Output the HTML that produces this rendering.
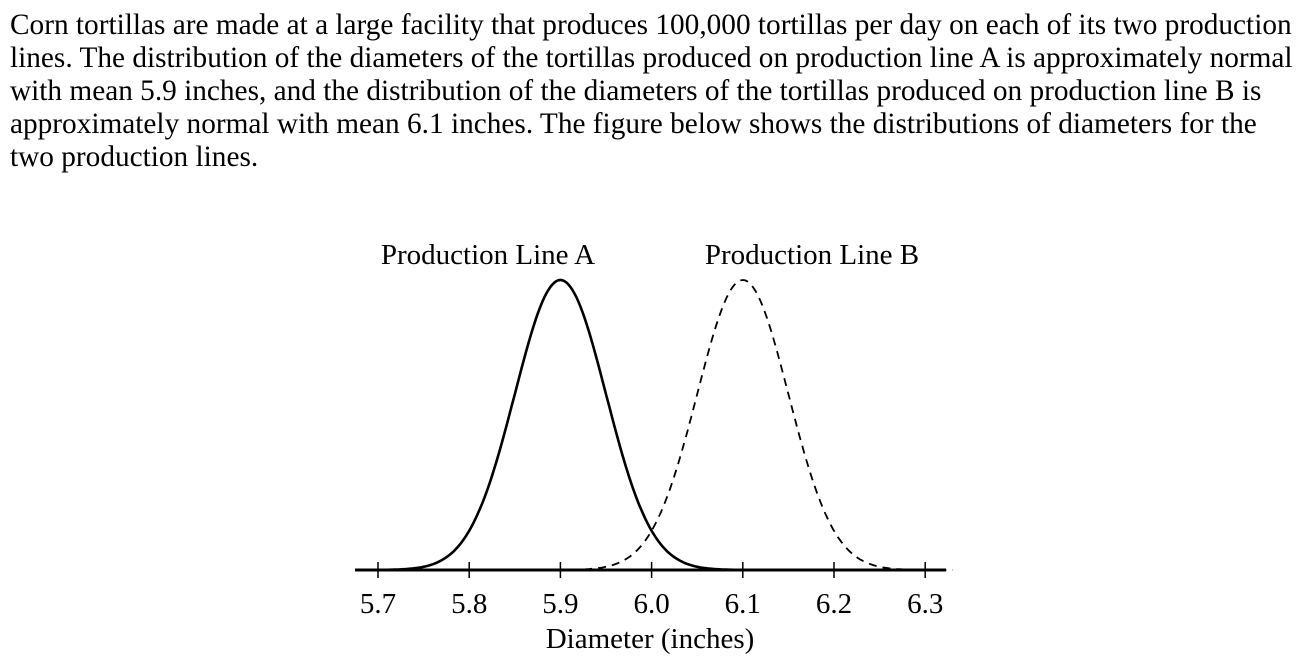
<!DOCTYPE html>
<html><head><meta charset="utf-8"><style>
body{margin:0;width:1304px;height:668px;background:#fff;overflow:hidden;font-family:"Liberation Serif",serif;color:#000}
#q{position:absolute;left:10px;top:9px;font-size:29.3px;line-height:33px;white-space:nowrap}
svg{position:absolute;left:0;top:0}
svg text{font-family:"Liberation Serif",serif;font-size:29px}
</style></head><body>
<div id="q">Corn tortillas are made at a large facility that produces 100,000 tortillas per day on each of its two production<br>lines. The distribution of the diameters of the tortillas produced on production line A is approximately normal<br>with mean 5.9 inches, and the distribution of the diameters of the tortillas produced on production line B is<br>approximately normal with mean 6.1 inches. The figure below shows the distributions of diameters for the<br>two production lines.</div>
<svg width="1304" height="668">
<g id="g"></g>
<text x="488" y="264" text-anchor="middle">Production Line A</text>
<text x="812" y="264" text-anchor="middle">Production Line B</text>
<text x="650" y="648" text-anchor="middle">Diameter (inches)</text>
</svg>
<script>
const ticks=[5.7,5.8,5.9,6.0,6.1,6.2,6.3];
const tickLabels=["5.7","5.8","5.9","6.0","6.1","6.2","6.3"];
const means=[5.9,6.1];
const sds=[0.05,0.05];
const ranges=[[5.68,6.12],[5.88,6.33]];
const NS="http://www.w3.org/2000/svg";
const x=v=>378+(v-5.7)/0.1*91.2;
const y0=570,H=290;
const g=document.getElementById('g');
function mk(t,a){const e=document.createElementNS(NS,t);for(const k in a)e.setAttribute(k,a[k]);g.appendChild(e);return e;}
const ax=mk('line',{x1:355,x2:946,y1:y0,y2:y0,stroke:'#000','stroke-width':3});


ticks.forEach((t,i)=>{
 const l=mk('line',{x1:x(t),x2:x(t),y1:y0-8,y2:y0+8,stroke:'#000','stroke-width':1.5});
 
 
 const tx=mk('text',{x:x(t),y:613,'text-anchor':'middle'});
 tx.textContent=tickLabels[i];
 
 
});
means.forEach((m,i)=>{
 let d='';const [a,b]=ranges[i];
 for(let k=0;k<=200;k++){const v=a+(b-a)*k/200;const yy=y0-H*Math.exp(-((v-m)**2)/(2*sds[i]**2));d+=(k?'L':'M')+x(v).toFixed(1)+','+yy.toFixed(1);}
 const p=mk('path',{d:d,fill:'none',stroke:'#000','stroke-width':i?1.8:2.6});
 if(i)p.setAttribute('stroke-dasharray','8,6');
 
 
});
</script>
</body></html>
